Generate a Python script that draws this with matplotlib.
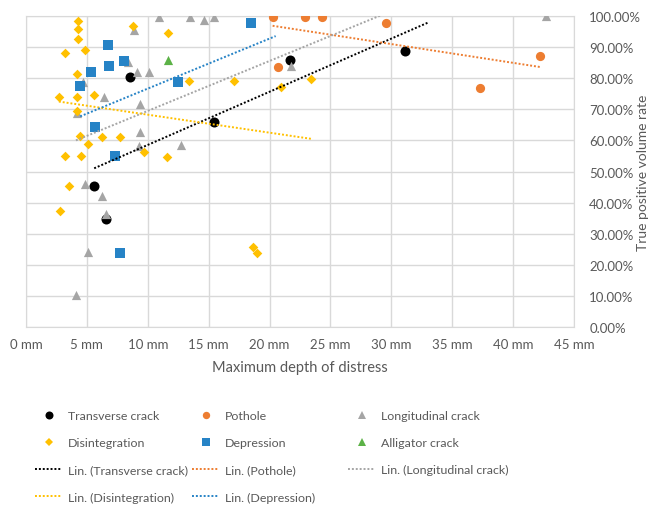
import matplotlib

matplotlib.use("Agg")
import matplotlib.pyplot as plt
import matplotlib.ticker as mticker
import numpy as np
from matplotlib.lines import Line2D

plt.rcParams.update({"font.family": ["Lato", "DejaVu Sans"]})

TEXT = "#595959"
GRID = "#D9D9D9"

# depth of distress (mm) vs true positive volume rate (%)
transverse_x = [8.5, 15.4, 5.6, 6.6, 21.7, 31.1]
transverse_y = [80.3, 66.0, 45.3, 34.6, 85.9, 88.6]

pothole_x = [20.25, 22.9, 24.3, 29.6, 20.7, 37.3, 42.2]
pothole_y = [99.8, 99.8, 99.8, 97.6, 83.5, 76.8, 87.2]

longitudinal_x = [10.9, 13.5, 14.6, 15.4, 8.9, 8.4, 9.1, 10.1, 4.7, 6.4, 9.4,
                  4.2, 9.4, 9.3, 12.75, 4.85, 6.2, 6.55, 5.1, 4.1, 21.8, 42.7]
longitudinal_y = [99.8, 99.8, 98.8, 99.8, 95.6, 85.1, 82.1, 82.1, 78.9, 73.8, 71.7,
                  68.8, 62.8, 58.3, 58.6, 45.9, 42.0, 36.3, 24.0, 10.3, 83.8, 99.9]

disintegration_x = [4.25, 4.25, 4.25, 8.8, 11.65, 3.2, 4.85, 4.2, 13.4, 2.7, 4.2, 5.6,
                    4.2, 4.45, 6.2, 7.7, 5.1, 9.7, 3.2, 4.5, 11.6, 3.55, 2.8, 17.05,
                    20.9, 23.4, 18.6, 18.95]
disintegration_y = [98.3, 95.8, 92.6, 96.7, 94.4, 88.2, 89.2, 81.5, 79.2, 73.8, 73.8, 74.6,
                    69.3, 61.3, 61.2, 61.2, 58.7, 56.3, 54.9, 54.9, 54.7, 45.2, 37.3, 79.1,
                    77.1, 79.8, 25.6, 23.8]

depression_x = [6.7, 8.05, 6.8, 5.35, 4.45, 12.5, 5.65, 7.3, 7.7, 18.5]
depression_y = [90.7, 85.6, 83.8, 81.9, 77.5, 78.7, 64.4, 55.1, 23.8, 97.7]

alligator_x = [11.65]
alligator_y = [85.9]

# name, x, y, color, marker, size, trendline forward forecast (mm) or None
SERIES = [
    ("Transverse crack", transverse_x, transverse_y, "#000000", "o", 52, 2.0),
    ("Pothole", pothole_x, pothole_y, "#ED7D31", "o", 44, 0.0),
    ("Longitudinal crack", longitudinal_x, longitudinal_y, "#A5A5A5", "^", 44, 0.0),
    ("Disintegration", disintegration_x, disintegration_y, "#FFC000", "D", 24, 0.0),
    ("Depression", depression_x, depression_y, "#2683C6", "s", 46, 2.0),
    ("Alligator crack", alligator_x, alligator_y, "#5CB247", "^", 44, None),
]

fig = plt.figure(figsize=(6.59, 5.10), dpi=100)
ax = fig.add_axes([26 / 659, 1 - 328 / 510, 548 / 659, 311 / 510])

marker_handles = {}
trend_handles = {}
for i, (name, xs, ys, color, marker, size, forward) in enumerate(SERIES):
    ax.scatter(xs, ys, s=size, marker=marker, color=color, linewidths=0, zorder=3 + i * 0.1)
    marker_handles[name] = Line2D([], [], ls="", marker=marker, color=color,
                                  markersize=np.sqrt(size) * 0.8, markeredgewidth=0)
    if forward is None:
        continue
    k, b = np.polyfit(xs, ys, 1)
    tx = np.array([min(xs), max(xs) + forward])
    ax.plot(tx, k * tx + b, color=color, ls=(0, (1, 1)), lw=1.4, zorder=4)
    trend_handles[name] = Line2D([], [], color=color, ls=(0, (1, 1)), lw=1.4)

ax.set_xlim(0, 45)
ax.set_ylim(0, 100)
ax.xaxis.set_major_locator(mticker.MultipleLocator(5))
ax.yaxis.set_major_locator(mticker.MultipleLocator(10))
ax.xaxis.set_major_formatter(mticker.FuncFormatter(lambda v, _: f"{v:.0f} mm"))
ax.yaxis.set_major_formatter(mticker.FuncFormatter(lambda v, _: f"{v:.2f}%"))
ax.yaxis.tick_right()
ax.yaxis.set_label_position("right")
ax.tick_params(length=0, labelsize=9.5, labelcolor=TEXT)
ax.tick_params(axis="y", pad=11)
ax.tick_params(axis="x", pad=8)
ax.grid(True, color=GRID, lw=1)
ax.set_axisbelow(True)
for sp in ax.spines.values():
    sp.set_color(GRID)

ax.set_xlabel("Maximum depth of distress", fontsize=10.5, color=TEXT, labelpad=7)
ax.set_ylabel("True positive volume rate", fontsize=10, color=TEXT)
ax.yaxis.set_label_coords(1.115, 0.5)

# legend laid out in three fixed columns
columns = [
    [("m", "Transverse crack"), ("m", "Disintegration"),
     ("t", "Transverse crack"), ("t", "Disintegration")],
    [("m", "Pothole"), ("m", "Depression"), ("t", "Pothole"), ("t", "Depression")],
    [("m", "Longitudinal crack"), ("m", "Alligator crack"), ("t", "Longitudinal crack")],
]
col_x = [35 / 659, 192 / 659, 348 / 659]
for cx, col in zip(col_x, columns):
    handles = [marker_handles[n] if kind == "m" else trend_handles[n] for kind, n in col]
    labels = [n if kind == "m" else f"Lin. ({n})" for kind, n in col]
    fig.legend(handles, labels, loc="upper left", bbox_to_anchor=(cx, 1 - 411 / 510),
               frameon=False, fontsize=8.9, labelcolor=TEXT, handlelength=2.2,
               handletextpad=0.45, labelspacing=1.31, borderpad=0, borderaxespad=0)

fig.savefig("out.png", dpi=100)
